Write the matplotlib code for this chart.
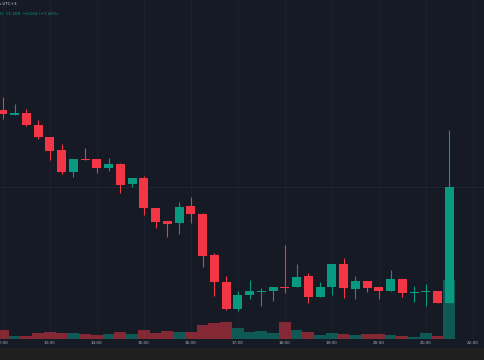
import matplotlib
matplotlib.use("Agg")
import matplotlib.pyplot as plt
from matplotlib.patches import Rectangle

# 15 minute candles from 12:00 to 21:30 (arbitrary price units)
times = ["%02d:%02d" % (12 + k // 4, 15 * (k % 4)) for k in range(39)]

opens = [290.0, 285.3, 286.7, 274.7, 263.3, 250.0, 228.3, 241.3, 241.0, 232.0,
         236.0, 216.0, 221.7, 191.7, 178.7, 177.0, 194.0, 185.7, 144.7, 118.3,
         90.7, 104.7, 108.3, 108.7, 113.3, 113.0, 123.7, 102.7, 113.3, 136.0,
         110.7, 119.3, 113.3, 109.3, 121.3, 107.0, 107.7, 109.3, 96.7]
closes = [285.7, 287.0, 274.7, 263.3, 249.0, 228.3, 241.0, 240.0, 232.3, 236.0,
          214.7, 221.7, 192.3, 178.0, 176.3, 192.7, 186.3, 144.3, 118.0, 91.3,
          105.0, 109.0, 109.0, 113.3, 112.0, 123.3, 102.7, 113.3, 136.0, 112.3,
          119.3, 112.3, 109.3, 121.3, 106.7, 108.3, 109.3, 96.7, 213.3]
highs = [303.3, 296.0, 290.7, 280.0, 263.3, 256.0, 241.0, 251.7, 241.0, 241.7,
         237.3, 221.7, 224.0, 191.7, 178.7, 198.3, 202.7, 186.7, 147.3, 124.0,
         109.3, 120.0, 112.0, 113.3, 155.0, 136.0, 126.7, 117.7, 136.0, 141.7,
         124.0, 119.3, 113.3, 130.0, 121.3, 114.0, 116.0, 109.3, 270.0]
lows = [281.0, 284.7, 274.0, 260.7, 240.0, 226.0, 222.7, 240.0, 226.7, 229.3,
        206.7, 213.3, 185.0, 171.7, 162.7, 166.0, 176.7, 132.7, 104.3, 90.0,
        89.0, 100.7, 94.3, 99.0, 106.7, 113.0, 96.7, 102.7, 105.0, 101.7,
        100.7, 108.3, 101.0, 109.3, 103.3, 98.3, 94.0, 96.7, 96.7]
volumes = [90, 33, 30, 60, 70, 57, 57, 50, 37, 47,
           70, 53, 87, 63, 83, 70, 67, 137, 160, 167,
           113, 73, 83, 60, 170, 87, 73, 40, 57, 50,
           40, 53, 47, 40, 27, 20, 57, 30, 590]

hour_labels = ["12:00", "13:00", "14:00", "15:00", "16:00", "17:00",
               "18:00", "19:00", "20:00", "21:00", "22:00"]

bg = "#161a25"
up = "#089981"
down = "#f23645"
grid = "#1e2230"

fig = plt.figure(figsize=(4.85, 3.6), dpi=100, facecolor=bg)
ax = fig.add_axes([0, 21 / 360, 1, 339 / 360])
ax.set_facecolor(bg)

x = list(range(len(times)))
cols = [up if c >= o else down for o, c in zip(opens, closes)]

tick_pos = [4 * k for k in range(len(hour_labels))]
for t in tick_pos:
    ax.axvline(t, color=grid, lw=0.6, zorder=0)
ax.axhline(213, color="#232735", lw=0.6, zorder=0)

ax.vlines(x, lows, highs, colors=cols, lw=0.8, zorder=2)
bottoms = [min(o, c) for o, c in zip(opens, closes)]
heights = [max(abs(c - o), 1.2) for o, c in zip(opens, closes)]
ax.bar(x, heights, bottom=bottoms, width=0.77, color=cols, zorder=3)

ax.set_xlim(-0.24, 41.04)
ax.set_ylim(61, 400)
ax.set_xticks(tick_pos)
ax.set_xticklabels(hour_labels)
ax.set_yticks([])
ax.tick_params(axis="x", length=0, pad=1.5, labelsize=3, labelcolor="#b2b5be")
for s in ax.spines.values():
    s.set_visible(False)

vax = ax.twinx()
vax.bar(x, volumes, width=1.0, color=cols, alpha=0.5, zorder=4)
vax.set_ylim(0, 3390)
vax.set_yticks([])
for s in vax.spines.values():
    s.set_visible(False)

# bottom band and header
fig.patches.append(Rectangle((0, 0), 1, 12 / 360, transform=fig.transFigure,
                             color="#1f1f1f", zorder=0))
fig.text(-0.002, 1 - 4 / 360, "s UTC+3", color="#d1d4dc", fontsize=3,
         va="center", ha="left")
fig.text(0.0, 1 - 14 / 360, "O  C1.168  \u22120.014 (\u22127.46%)", color=up,
         fontsize=3, va="center", ha="left")

fig.savefig("out.png", dpi=100, facecolor=bg)
